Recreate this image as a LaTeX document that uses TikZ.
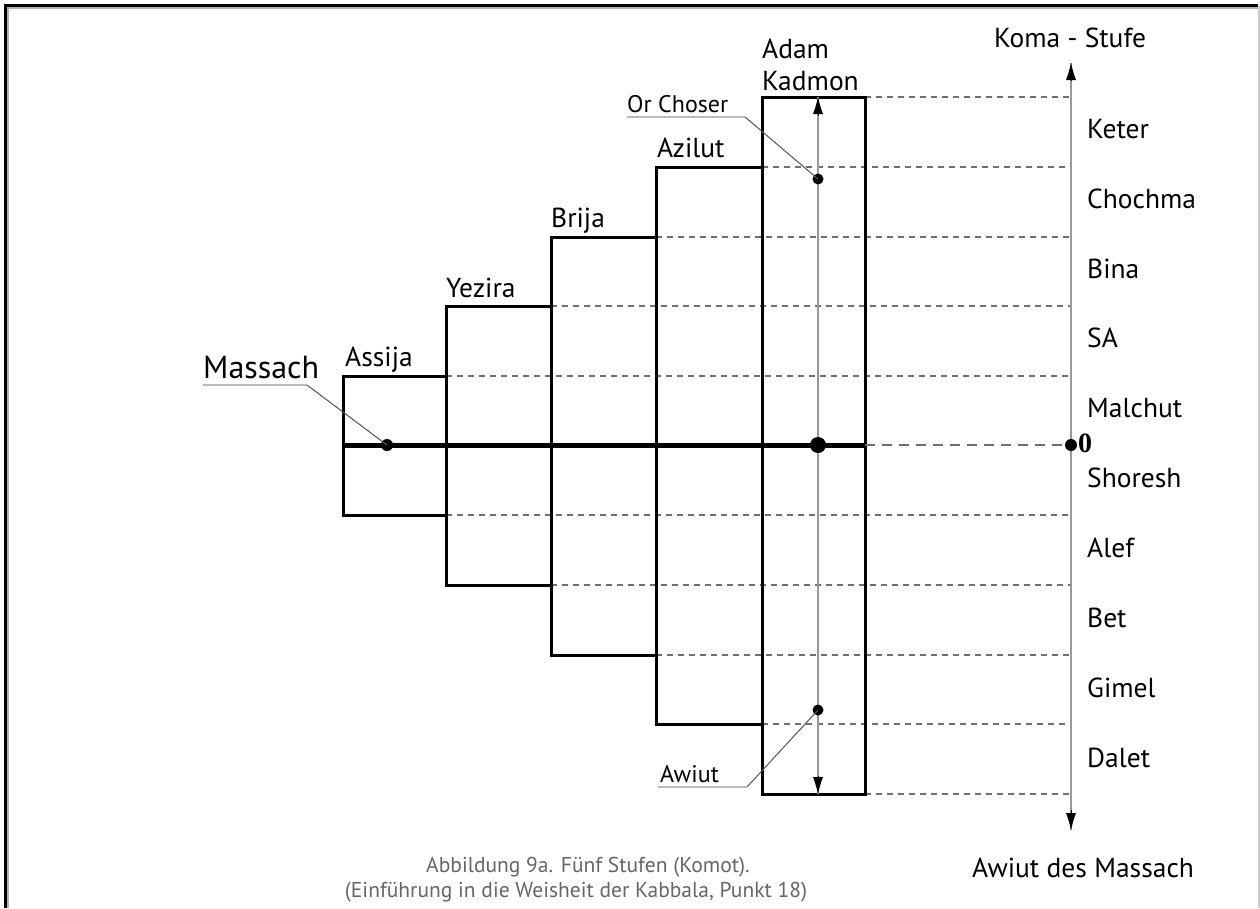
\documentclass[tikz,border=0pt]{standalone}
\usepackage{fontspec}
\setmainfont{PT Sans}
\newfontfamily\zeroserif{Liberation Serif}
\usetikzlibrary{arrows.meta}
\definecolor{guidegray}{HTML}{707070}
\definecolor{axisgray}{HTML}{999999}
\definecolor{leadgray}{HTML}{555555}
\definecolor{leadlight}{HTML}{BBBBBB}
\definecolor{capgray}{HTML}{666666}
\begin{document}
\begin{tikzpicture}[x=1pt,y=-1pt,
  box/.style={draw=black,line width=3pt},
  guide/.style={draw=guidegray,line width=1.4pt,dash pattern=on 6pt off 5pt},
  zeroguide/.style={draw=guidegray,line width=1.5pt,dash pattern=on 10pt off 7pt},
  lbl/.style={font=\fontsize{27.5}{27.5}\selectfont,inner sep=0pt,anchor=base west},
  small/.style={font=\fontsize{24}{24}\selectfont,inner sep=0pt,anchor=base west},
  captext/.style={font=\fontsize{21.5}{21.5}\selectfont,inner sep=0pt,anchor=base,text=capgray},
  dotc/.style={circle,fill=black,inner sep=0pt,minimum size=#1},
  leaddiag/.style={draw=leadgray,line width=1pt},
  leadhor/.style={draw=leadlight,line width=1.4pt}
]
\useasboundingbox (0,0) rectangle (1260,908);
% frame
\draw[gray!60,line width=1.2pt] (8,908) -- (8,8) -- (1258,8);
\draw[black,line width=3pt] (5.5,908) -- (5.5,5.5) -- (1258,5.5);
\draw[gray!40,line width=1.2pt] (1259,6) -- (1259,908);

% guide lines
\foreach \yy/\xx in {97/865,167/762,237/656,306/551,376/446,515/446,585/551,655/656,724/762,794/865}
  \draw[guide] (\xx,\yy) -- (1071,\yy);

% boxes
\draw[box] (343,376) rectangle (446,515);
\draw[box] (446,306) rectangle (551,585);
\draw[box] (551,237) rectangle (656,655);
\draw[box] (656,167) rectangle (762,724);
\draw[box] (762,97) rectangle (865,794);

% zero line
\draw[line width=5pt] (343,445) -- (865,445);
\draw[zeroguide] (865,445) -- (1071,445);

% axis
\coordinate (axtop) at (1071,63);
\coordinate (axbot) at (1071,830);
\draw[axisgray,line width=2.2pt] (1071,445) -- (axtop);
\draw[axisgray,line width=2.2pt] (1071,445) -- (axbot);
\draw[black,line width=0pt,-{Latex[length=17pt,width=10pt]}] (1071,80) -- (axtop);
\draw[black,line width=0pt,-{Latex[length=17pt,width=10pt]}] (1071,810) -- (axbot);

% inner arrow
\coordinate (intop) at (818,97);
\coordinate (inbot) at (818,794);
\draw[axisgray,line width=1.7pt] (intop) -- (inbot);
\draw[black,line width=0pt,-{Latex[length=17pt,width=10pt]}] (818,115) -- (intop);
\draw[black,line width=0pt,-{Latex[length=17pt,width=10pt]}] (818,776) -- (inbot);

% dots
\node[dotc=12pt] (zerodot) at (1071,445) {};
\node[dotc=16pt] (akdot) at (818,445) {};
\node[dotc=12pt] (mdot) at (387,445) {};
\node[dotc=11pt] (ocdot) at (818,179) {};
\node[dotc=11pt] (awdot) at (818,710) {};

% zero label
\node[inner sep=0pt,anchor=base west,font=\zeroserif\bfseries\fontsize{28}{28}\selectfont] (zero) at (1078,452) {0};

% box labels
\node[lbl] (adam) at (762,58) {Adam};
\node[lbl] (kadmon) at (762,90) {Kadmon};
\node[lbl] (azilut) at (657,157) {Azilut};
\node[lbl] (brija) at (551,227) {Brija};
\node[lbl] (yezira) at (446,297) {Yezira};
\node[lbl] (assija) at (345,366) {Assija};

% right labels
\node[lbl] (keter) at (1087,138) {Keter};
\node[lbl] (chochma) at (1087,208) {Chochma};
\node[lbl] (bina) at (1087,278) {Bina};
\node[lbl] (sa) at (1087,347) {SA};
\node[lbl] (malchut) at (1087,417) {Malchut};
\node[lbl] (shoresh) at (1087,487) {Shoresh};
\node[lbl] (alef) at (1087,557) {Alef};
\node[lbl] (bet) at (1087,627) {Bet};
\node[lbl] (gimel) at (1087,697) {Gimel};
\node[lbl] (dalet) at (1087,767) {Dalet};

\node[lbl,anchor=base] (koma) at (1070,47) {Koma - Stufe};
\node[lbl,anchor=base] (awmass) at (1083,877) {Awiut des Massach};

% callouts
\node[inner sep=0pt,anchor=base west,font=\fontsize{32}{32}\selectfont] (massach) at (203,378) {Massach};
\coordinate (mel) at (307,385);
\coordinate (mend) at (203,385);
\draw[leaddiag] (mdot.center) -- (mel);
\draw[leadhor] (mel) -- (mend);

\node[small] (orchoser) at (627,112) {Or Choser};
\coordinate (ocel) at (745,117);
\coordinate (ocend) at (627,117);
\draw[leaddiag] (ocdot.center) -- (ocel);
\draw[leadhor] (ocel) -- (ocend);

\node[small] (awiut) at (660,782) {Awiut};
\coordinate (awel) at (747,787);
\coordinate (awend) at (658,787);
\draw[leaddiag] (awdot.center) -- (awel);
\draw[leadhor] (awel) -- (awend);

% caption
\node[captext] (cap1) at (588,872) {Abbildung 9a. Fünf Stufen (Komot).};
\node[captext] (cap2) at (576,897) {(Einführung in die Weisheit der Kabbala, Punkt 18)};
\end{tikzpicture}
\end{document}
